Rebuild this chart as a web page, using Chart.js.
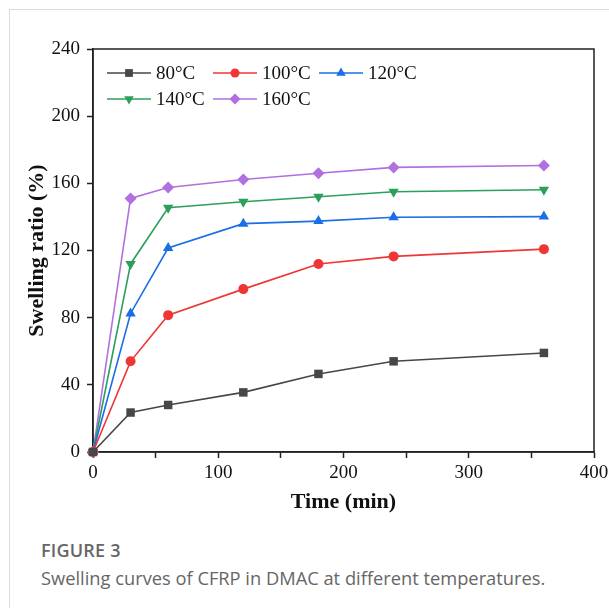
<!DOCTYPE html>
<html>
<head>
<meta charset="utf-8">
<script src="https://cdn.jsdelivr.net/npm/chart.js@4/dist/chart.umd.min.js"></script>
<style>
  html, body { margin: 0; padding: 0; background: #fff; }
  body { width: 609px; height: 608px; position: relative; overflow: hidden; }
  #frame {
    position: absolute; left: 9px; top: 9px; right: -2px; bottom: -2px;
    border-top: 1.5px solid #dcdcdc; border-left: 1.5px solid #dcdcdc;
  }
  #wrap { position: absolute; left: 0; top: 0; width: 609px; height: 520px; }
  #caption { position: absolute; left: 41px; top: 538px; font-family: "Open Sans", "Noto Sans", sans-serif; color: #666; }
  #caption .fig { font-size: 18px; font-weight: 600; letter-spacing: 0.2px; line-height: 24px; }
  #caption .txt { font-size: 18.3px; line-height: 24px; margin-top: 4px; }
</style>
</head>
<body>
<div id="frame"></div>
<div id="wrap"><canvas id="chart" width="609" height="520"></canvas></div>
<div id="caption">
  <div class="fig">FIGURE 3</div>
  <div class="txt">Swelling curves of CFRP in DMAC at different temperatures.</div>
</div>
<script>
// ===================== DATA =====================
const times = [0, 30, 60, 120, 180, 240, 360];
const temps = ["80°C", "100°C", "120°C", "140°C", "160°C"];
const s80 = [0, 23.5, 28, 35.5, 46.5, 54, 59];
const s100 = [0, 54, 81.5, 97, 112, 116.5, 120.8];
const s120 = [0, 82.5, 121.5, 136, 137.5, 139.8, 140.2];
const s140 = [0, 112, 145.5, 149, 152, 155, 156.2];
const s160 = [0, 151, 157.5, 162.3, 166, 169.5, 170.6];
const yTicks = [0, 40, 80, 120, 160, 200, 240];
const xTicks = [0, 100, 200, 300, 400];

const colors = ["#474747", "#f03535", "#1a6ee6", "#2ca05a", "#b070e0"];
const markers = ["rect", "circle", "triangle", "triangle", "rectRot"];
const markerRot = [0, 0, 0, 180, 0];
const markerSize = [6, 5, 6, 6, 6];

const serif = '"Liberation Serif", "Times New Roman", serif';

const seriesList = [s80, s100, s120, s140, s160];
const datasets = seriesList.map((s, i) => ({
  label: temps[i],
  data: times.map((t, j) => ({ x: t, y: s[j] })),
  borderColor: colors[i],
  backgroundColor: colors[i],
  borderWidth: 1.6,
  pointStyle: markers[i],
  rotation: markerRot[i],
  pointRadius: markerSize[i],
  pointBorderWidth: 0,
  tension: 0,
  clip: false
}));

// ===================== PLUGINS =====================
// box round the plot area
const boxPlugin = {
  id: "plotBox",
  beforeDatasetsDraw(chart) {
    const { ctx, chartArea: a } = chart;
    ctx.save();
    ctx.strokeStyle = "#222";
    ctx.lineWidth = 1.5;
    ctx.strokeRect(a.left, a.top, a.right - a.left, a.bottom - a.top);
    ctx.restore();
  }
};

// legend inside the plot, two rows like the original
const legendPlugin = {
  id: "innerLegend",
  afterDraw(chart) {
    const { ctx, chartArea: a } = chart;
    const perRow = 3, colW = 106, rowH = 26;
    ctx.save();
    chart.data.datasets.forEach((ds, i) => {
      const x0 = a.left + 14 + (i % perRow) * colW;
      const y0 = a.top + 24 + Math.floor(i / perRow) * rowH;
      ctx.strokeStyle = ds.borderColor;
      ctx.lineWidth = 1.6;
      ctx.beginPath();
      ctx.moveTo(x0, y0);
      ctx.lineTo(x0 + 44, y0);
      ctx.stroke();
      ctx.fillStyle = ds.backgroundColor;
      Chart.helpers.drawPoint(ctx, {
        pointStyle: ds.pointStyle,
        rotation: ds.rotation,
        radius: ds.pointRadius - 0.5,
        borderWidth: 0
      }, x0 + 22, y0);
      ctx.fillStyle = "#111";
      ctx.font = "19px " + serif;
      ctx.textBaseline = "middle";
      ctx.textAlign = "left";
      ctx.fillText(ds.label, x0 + 49, y0 + 1);
    });
    ctx.restore();
  }
};

// ===================== CHART =====================
new Chart(document.getElementById("chart"), {
  type: "line",
  data: { datasets },
  options: {
    responsive: false,
    animation: false,
    layout: { padding: { left: 0, top: 49, right: 15, bottom: 0 } },
    plugins: { legend: { display: false }, tooltip: { enabled: false } },
    scales: {
      x: {
        type: "linear",
        min: 0,
        max: 400,
        afterFit(scale) {
          scale.height = 68;
          scale.paddingLeft = 0;
          scale.paddingRight = 0;
        },
        afterBuildTicks(scale) {
          const all = [];
          for (let v = 0; v <= 400; v += 50) all.push({ value: v });
          scale.ticks = all;
        },
        ticks: {
          color: "#111",
          font: { family: serif, size: 19 },
          padding: 4,
          maxRotation: 0,
          autoSkip: false,
          callback: (v) => (xTicks.includes(v) ? String(v) : "")
        },
        grid: { drawOnChartArea: false, tickLength: 6, tickColor: "#222", tickWidth: 1.5 },
        border: { display: true, color: "#222", width: 1.5 },
        title: {
          display: true,
          text: "Time (min)",
          color: "#111",
          font: { family: serif, size: 22, weight: "bold" },
          padding: { top: 4, bottom: 4 }
        }
      },
      y: {
        min: 0,
        max: 240,
        afterFit(scale) {
          scale.width = 93;
          scale.paddingTop = 0;
          scale.paddingBottom = 0;
        },
        afterBuildTicks(scale) { scale.ticks = yTicks.map(v => ({ value: v })); },
        ticks: {
          color: "#111",
          font: { family: serif, size: 19 },
          padding: 7
        },
        grid: { drawOnChartArea: false, tickLength: 6, tickColor: "#222", tickWidth: 1.5 },
        border: { display: true, color: "#222", width: 1.5 },
        title: {
          display: true,
          text: "Swelling ratio (%)",
          color: "#111",
          font: { family: serif, size: 22, weight: "bold" },
          padding: { top: 24, bottom: 0 }
        }
      }
    }
  },
  plugins: [boxPlugin, legendPlugin]
});
</script>
</body>
</html>
